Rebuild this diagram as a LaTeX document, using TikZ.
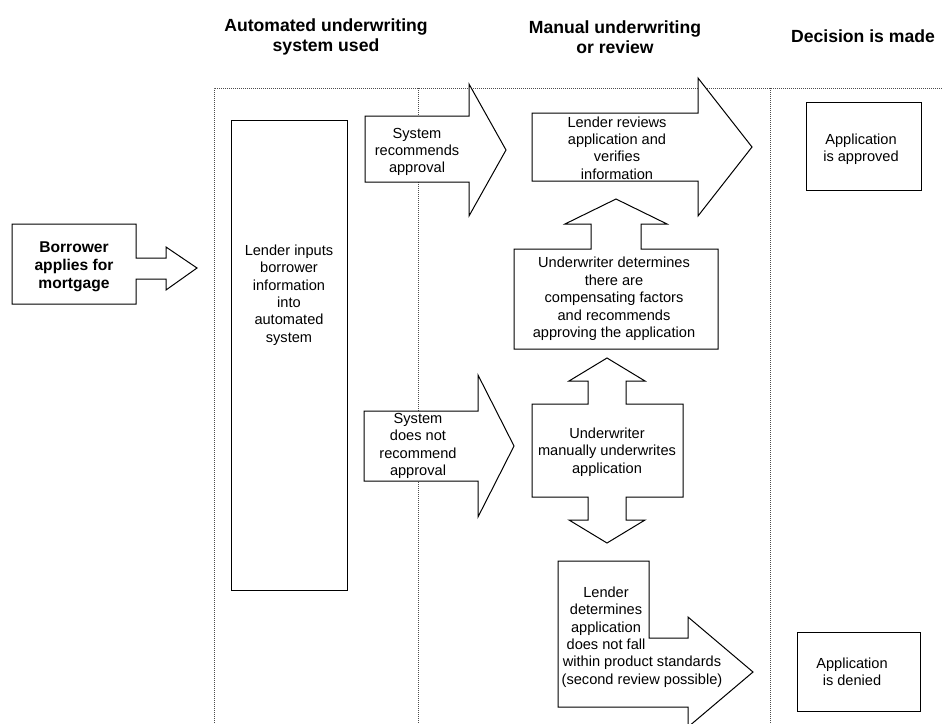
\documentclass[tikz,border=0pt]{standalone}
\usepackage{fontspec}
\setmainfont{Liberation Sans}
\usetikzlibrary{positioning,calc}

\begin{document}
\begin{tikzpicture}[x=0.5pt, y=-0.5pt,
  blk/.style={draw, fill=white, line width=0.5pt, line join=miter},
  txt/.style={align=center, font=\fontsize{7.3}{8.7}\selectfont, inner sep=0pt},
  hd/.style={align=center, font=\fontsize{8.8}{10}\selectfont\bfseries, inner sep=0pt},
  lane/.style={line width=0.5pt, black!70, dash pattern=on 0.5pt off 0.5pt}]
  \useasboundingbox (0,0) rectangle (942,723);

  % Lanes
  \draw[lane] (214,723) -- (214,88) -- (942,88);
  \draw[lane] (418,88) -- (418,723);
  \draw[lane] (770,88) -- (770,723);

  % Headers
  \node[hd] (hdauto) at (326,37) {Automated underwriting\\system used};
  \node[hd] (hdmanual) at (615,37) {Manual underwriting\\or review};
  \node[hd] (hddecision) at (863,36) {Decision is made};

  % Shapes
  \draw[blk] (12,224) -- (136,224) -- (136,258) -- (166,258) -- (166,247) -- (197,268)
    -- (166,290) -- (166,279) -- (136,279) -- (136,304) -- (12,304) -- cycle;
  \draw[blk] (231,120) rectangle (347,590);
  \draw[blk] (365,116) -- (469,116) -- (469,84) -- (506,150) -- (469,216) -- (469,182)
    -- (365,182) -- cycle;
  \draw[blk] (532,113) -- (698,113) -- (698,78) -- (752,147) -- (698,216) -- (698,181)
    -- (532,181) -- cycle;
  \draw[blk] (514,249) -- (591,249) -- (591,224) -- (565,224) -- (616,199) -- (667,224)
    -- (641,224) -- (641,249) -- (718,249) -- (718,349) -- (514,349) -- cycle;
  \draw[blk] (532,404) -- (588,404) -- (588,381) -- (569,381) -- (607,358) -- (645,381)
    -- (626,381) -- (626,404) -- (683,404) -- (683,497) -- (626,497) -- (626,520)
    -- (645,520) -- (607,543) -- (569,520) -- (588,520) -- (588,497) -- (532,497) -- cycle;
  \draw[blk] (364,411) -- (478,411) -- (478,375) -- (514,446) -- (478,517) -- (478,481)
    -- (364,481) -- cycle;
  \draw[blk] (558,561) -- (649,561) -- (649,638) -- (688,638) -- (688,617) -- (753,672)
    -- (688,727) -- (688,707) -- (558,707) -- cycle;
  \draw[blk] (806,102) rectangle (921,190);
  \draw[blk] (797,632) rectangle (920,711);

  % Texts
  \node[txt, font=\fontsize{7.8}{9}\selectfont\bfseries] (borrower) at (74,267) {Borrower\\applies for\\mortgage};
  \node[txt] (inputs) at (289,295) {Lender inputs\\borrower\\information\\into\\automated\\system};
  \node[txt] (sysyes) at (417,152) {System\\recommends\\approval};
  \node[txt] (review) at (617,148) {Lender reviews\\application and\\verifies\\information};
  \node[txt] (factors) at (614,299) {Underwriter determines\\there are\\compensating factors\\and recommends\\approving the application};
  \node[txt] (manual) at (607,452) {Underwriter\\manually underwrites\\application};
  \node[txt] (sysno) at (418,446) {System\\does not\\recommend\\approval};
  \node[txt] (notfall) at (642,637) {Lender\kern36pt\\determines\kern36pt\\application\kern36pt\\does not fall\kern36pt\\within product standards\\(second review possible)};
  \node[txt] (approved) at (861,149) {Application\\is approved};
  \node[txt] (denied) at (852,672) {Application\\is denied};
\end{tikzpicture}
\end{document}
